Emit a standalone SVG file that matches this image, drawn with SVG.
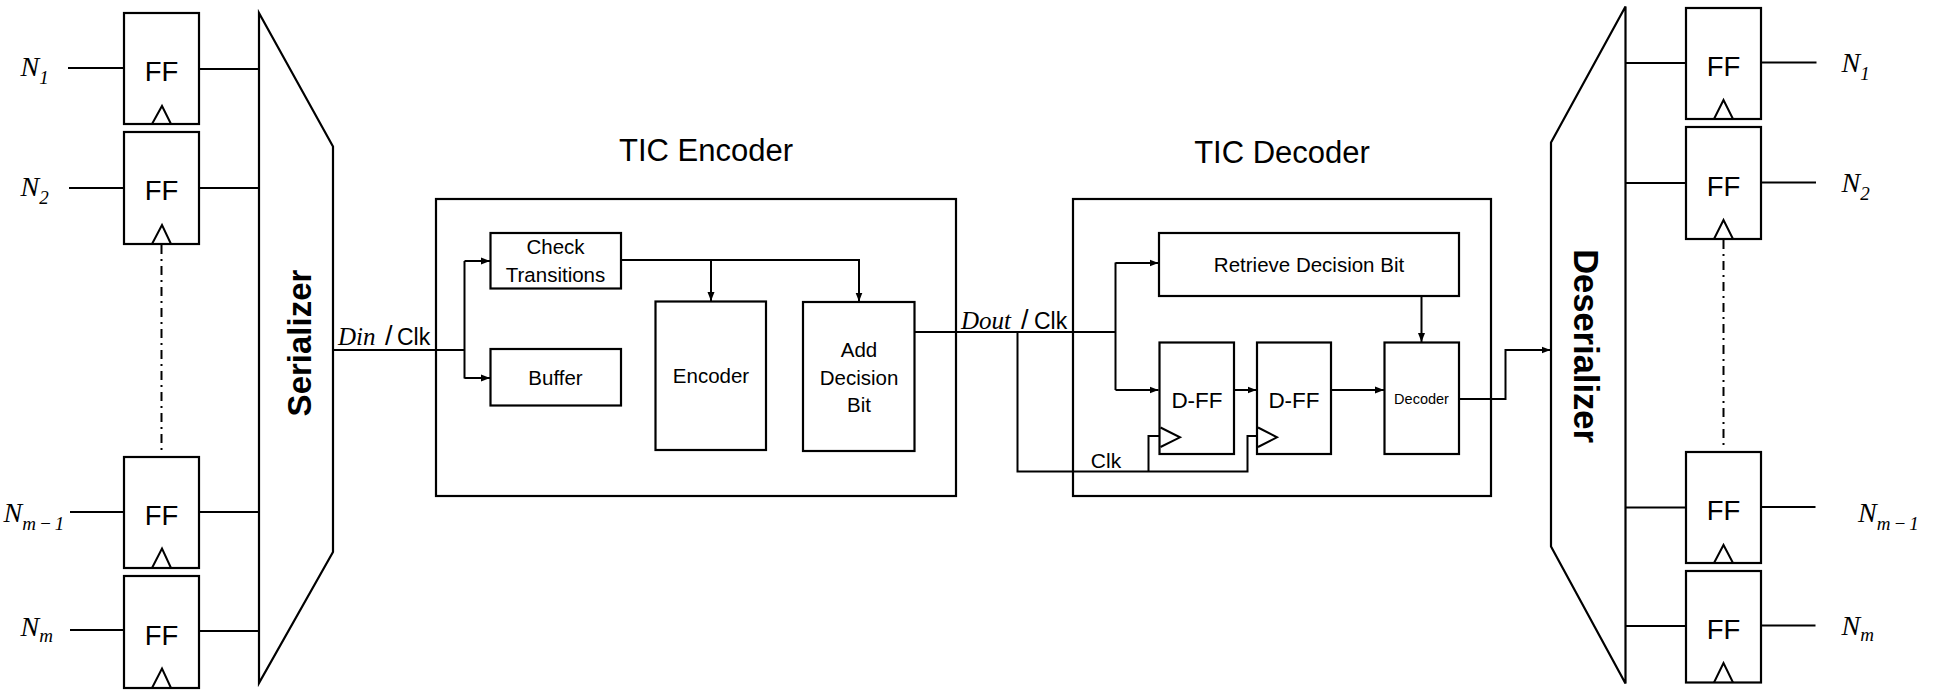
<svg xmlns="http://www.w3.org/2000/svg" width="1936" height="691" viewBox="0 0 1936 691">
<style>
.bx{fill:none;stroke:#000;stroke-width:2.2}
.ln{fill:none;stroke:#000;stroke-width:2}
.dd{fill:none;stroke:#000;stroke-width:2;stroke-dasharray:9 5 2 5}
.t{font-family:"Liberation Sans",Arial,sans-serif;fill:#000}
.ff{font-size:27.5px;text-anchor:middle}
.blk{font-size:20.5px;text-anchor:middle}
.ttl{font-size:31px;text-anchor:middle}
.rot{font-weight:bold;text-anchor:middle}
.m{font-family:"Liberation Serif","Times New Roman",serif;font-style:italic;fill:#000;font-size:28px}
.sub{font-size:19px}
.sig{font-size:25px}
.sl{font-family:"Liberation Sans",Arial,sans-serif;font-size:27px;font-style:normal}
.ck{font-family:"Liberation Sans",Arial,sans-serif;font-size:23px;font-style:normal}
</style>
<defs>
<marker id="ah" markerUnits="userSpaceOnUse" markerWidth="10" markerHeight="8" refX="9" refY="4" orient="auto">
<path d="M0,0.5 L9,4 L0,7.5 z" fill="#000"/>
</marker>
</defs>

<!-- Left flip-flops -->
<g id="ff-in-1">
<rect class="bx" x="124" y="13" width="75" height="111"/>
<polyline class="ln" points="152,124 162,106 171,124"/>
<text class="t ff" x="161.5" y="80.5">FF</text>
</g>
<g id="ff-in-2">
<rect class="bx" x="124" y="132" width="75" height="112"/>
<polyline class="ln" points="152,244 162,225 171,244"/>
<text class="t ff" x="161.5" y="200">FF</text>
</g>
<g id="ff-in-3">
<rect class="bx" x="124" y="457" width="75" height="111"/>
<polyline class="ln" points="152,568 162,548.5 171,568"/>
<text class="t ff" x="161.5" y="524.5">FF</text>
</g>
<g id="ff-in-4">
<rect class="bx" x="124" y="576" width="75" height="112"/>
<polyline class="ln" points="152,688 162,668.5 171,688"/>
<text class="t ff" x="161.5" y="644.5">FF</text>
</g>

<!-- Left labels -->
<g id="labels-in">
<text class="m" x="20.5" y="76">N<tspan class="sub" dy="8">1</tspan></text>
<text class="m" x="20.5" y="196">N<tspan class="sub" dy="8">2</tspan></text>
<text class="m" x="3.5" y="522">N<tspan class="sub" dy="8">m</tspan><tspan class="sub" dx="3">−</tspan><tspan class="sub" dx="3">1</tspan></text>
<text class="m" x="20.5" y="636">N<tspan class="sub" dy="6">m</tspan></text>
</g>

<!-- Serializer -->
<g id="serializer">
<polygon class="bx" points="259,13 333,146.5 333,552 259,683"/>
<text class="t rot" font-size="33" transform="translate(311,343) rotate(-90)">Serializer</text>
</g>

<!-- TIC Encoder -->
<g id="tic-encoder">
<rect class="bx" x="436" y="199" width="520" height="297"/>
<text class="t ttl" x="706" y="161">TIC Encoder</text>
</g>
<g id="check-transitions">
<rect class="bx" x="490.5" y="233" width="130.5" height="55.5"/>
<text class="t blk" x="555.5" y="254">Check</text>
<text class="t blk" x="555.5" y="282">Transitions</text>
</g>
<g id="buffer">
<rect class="bx" x="490.5" y="349" width="130.5" height="56.5"/>
<text class="t blk" x="555.5" y="385">Buffer</text>
</g>
<g id="encoder">
<rect class="bx" x="655.5" y="301.5" width="110.5" height="148.5"/>
<text class="t blk" x="711" y="383">Encoder</text>
</g>
<g id="add-decision-bit">
<rect class="bx" x="803" y="302" width="111.5" height="149"/>
<text class="t blk" x="859" y="357">Add</text>
<text class="t blk" x="859" y="385">Decision</text>
<text class="t blk" x="859" y="412">Bit</text>
</g>

<!-- TIC Decoder -->
<g id="tic-decoder">
<rect class="bx" x="1073" y="199" width="418" height="297"/>
<text class="t ttl" x="1282" y="163">TIC Decoder</text>
</g>
<g id="retrieve-decision-bit">
<rect class="bx" x="1159" y="233" width="300" height="63"/>
<text class="t blk" x="1309" y="272">Retrieve Decision Bit</text>
</g>
<g id="dff-1">
<rect class="bx" x="1159.5" y="342.5" width="74.5" height="111.5"/>
<polyline class="ln" points="1160.5,427.5 1180,437.3 1160.5,447"/>
<text class="t" font-size="22.5" text-anchor="middle" x="1197" y="408">D-FF</text>
</g>
<g id="dff-2">
<rect class="bx" x="1257" y="342.5" width="74" height="111.5"/>
<polyline class="ln" points="1258,427.5 1277,437.3 1258,447"/>
<text class="t" font-size="22.5" text-anchor="middle" x="1294" y="408">D-FF</text>
</g>
<g id="decoder">
<rect class="bx" x="1384.5" y="342.5" width="74.5" height="111.5"/>
<text class="t" font-size="14.5" text-anchor="middle" x="1421.5" y="404">Decoder</text>
</g>

<!-- Deserializer -->
<g id="deserializer">
<polygon class="bx" points="1625.5,6.5 1551,142.5 1551,546.5 1625.5,683.5"/>
<text class="t rot" font-size="34.5" transform="translate(1573.5,346) rotate(90)">Deserializer</text>
</g>

<!-- Right flip-flops -->
<g id="ff-out-1">
<rect class="bx" x="1686" y="8" width="75" height="111"/>
<polyline class="ln" points="1714,119 1723.5,100 1733,119"/>
<text class="t ff" x="1723.5" y="76">FF</text>
</g>
<g id="ff-out-2">
<rect class="bx" x="1686" y="127" width="75" height="112"/>
<polyline class="ln" points="1714,239 1723.5,220 1733,239"/>
<text class="t ff" x="1723.5" y="195.5">FF</text>
</g>
<g id="ff-out-3">
<rect class="bx" x="1686" y="452" width="75" height="111"/>
<polyline class="ln" points="1714,563 1723.5,545 1733,563"/>
<text class="t ff" x="1723.5" y="520">FF</text>
</g>
<g id="ff-out-4">
<rect class="bx" x="1686" y="571" width="75" height="111.5"/>
<polyline class="ln" points="1714,682.5 1723.5,663 1733,682.5"/>
<text class="t ff" x="1723.5" y="638.5">FF</text>
</g>

<!-- Right labels -->
<g id="labels-out">
<text class="m" x="1841.5" y="71.5">N<tspan class="sub" dy="8">1</tspan></text>
<text class="m" x="1841.5" y="191.5">N<tspan class="sub" dy="8">2</tspan></text>
<text class="m" x="1858" y="521.5">N<tspan class="sub" dy="8">m</tspan><tspan class="sub" dx="3">−</tspan><tspan class="sub" dx="3">1</tspan></text>
<text class="m" x="1841.5" y="635">N<tspan class="sub" dy="6">m</tspan></text>
</g>

<!-- Signal labels -->
<g id="signal-labels">
<text class="m sig" x="338" y="345">Din<tspan class="sl" x="385">/</tspan><tspan class="ck" x="397">Clk</tspan></text>
<text class="m sig" x="961" y="329">Dout<tspan class="sl" x="1021">/</tspan><tspan class="ck" x="1034">Clk</tspan></text>
<text class="t" font-size="21" text-anchor="middle" x="1106" y="468">Clk</text>
</g>

<!-- Connectors -->
<g id="connectors">
<line class="ln" x1="68" y1="68" x2="124" y2="68"/>
<line class="ln" x1="199" y1="69" x2="259" y2="69"/>
<line class="ln" x1="69" y1="188" x2="124" y2="188"/>
<line class="ln" x1="199" y1="188" x2="259" y2="188"/>
<line class="ln" x1="70" y1="512" x2="124" y2="512"/>
<line class="ln" x1="199" y1="512" x2="259" y2="512"/>
<line class="ln" x1="70" y1="630" x2="124" y2="630"/>
<line class="ln" x1="199" y1="631" x2="259" y2="631"/>
<line class="dd" x1="161.5" y1="245" x2="161.5" y2="453"/>
<line class="ln" x1="333" y1="350" x2="465" y2="350"/>
<line class="ln" x1="464.5" y1="261" x2="464.5" y2="378.5"/>
<line class="ln" x1="464.5" y1="261" x2="490" y2="261" marker-end="url(#ah)"/>
<line class="ln" x1="464.5" y1="378" x2="490" y2="378" marker-end="url(#ah)"/>
<polyline class="ln" points="621,260 859,260 859,301.5" marker-end="url(#ah)"/>
<line class="ln" x1="711" y1="260" x2="711" y2="301" marker-end="url(#ah)"/>
<line class="ln" x1="914.5" y1="332" x2="1115.5" y2="332"/>
<line class="ln" x1="1115.5" y1="262.5" x2="1115.5" y2="390"/>
<line class="ln" x1="1115.5" y1="263" x2="1158.5" y2="263" marker-end="url(#ah)"/>
<line class="ln" x1="1115.5" y1="390" x2="1158.5" y2="390" marker-end="url(#ah)"/>
<line class="ln" x1="1234" y1="390" x2="1256.5" y2="390" marker-end="url(#ah)"/>
<line class="ln" x1="1331" y1="390" x2="1384" y2="390" marker-end="url(#ah)"/>
<line class="ln" x1="1421.5" y1="296" x2="1421.5" y2="342" marker-end="url(#ah)"/>
<polyline class="ln" points="1017.5,332 1017.5,471.5 1247.5,471.5 1247.5,436 1257.5,436"/>
<polyline class="ln" points="1148.5,471.5 1148.5,436 1160,436"/>
<polyline class="ln" points="1459,399 1505.5,399 1505.5,350 1550.5,350" marker-end="url(#ah)"/>
<line class="ln" x1="1625.5" y1="63" x2="1686" y2="63"/>
<line class="ln" x1="1761" y1="62.5" x2="1816.5" y2="62.5"/>
<line class="ln" x1="1625.5" y1="183" x2="1686" y2="183"/>
<line class="ln" x1="1761" y1="182.5" x2="1816" y2="182.5"/>
<line class="ln" x1="1625.5" y1="507.5" x2="1686" y2="507.5"/>
<line class="ln" x1="1761" y1="507" x2="1815.5" y2="507"/>
<line class="ln" x1="1625.5" y1="626" x2="1686" y2="626"/>
<line class="ln" x1="1761" y1="625.5" x2="1815.5" y2="625.5"/>
<line class="dd" x1="1723.5" y1="240" x2="1723.5" y2="449"/>
</g>
</svg>
